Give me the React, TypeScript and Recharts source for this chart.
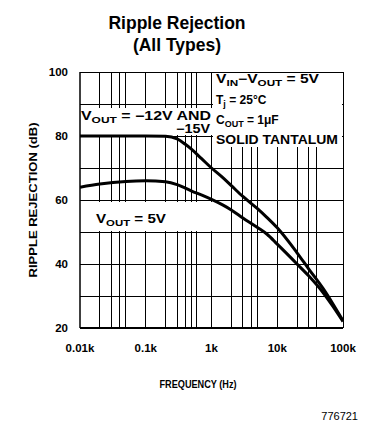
import { LineChart, Line, XAxis, YAxis, CartesianGrid, Customized } from "recharts";

const freqs = [10, 20, 50, 100, 200, 300, 400, 500, 700, 1000, 1500, 2000, 3000, 5000, 7000, 10000, 20000, 30000, 50000, 70000, 100000];
const vout12 = [80, 80, 80, 80, 79.9, 79.1, 77.4, 75.8, 73, 70, 66.9, 64.5, 61.1, 57.3, 54.5, 51.3, 43.5, 38.5, 32.3, 27.6, 22.3];
const vout5 = [64, 65, 65.8, 66, 65.7, 64.8, 63.7, 62.8, 61.6, 60.2, 58.4, 56.9, 54.4, 51.4, 49.3, 46.2, 40, 36.3, 31, 26.8, 22];

const xTicks = [10, 100, 1000, 10000, 100000];
const xTickLabels = ["0.01k", "0.1k", "1k", "10k", "100k"];
const yTicks = [20, 40, 60, 80, 100];

const data = freqs.map((f, i) => ({ f, neg: vout12[i], pos: vout5[i] }));

// minor log grid 1..9 per decade, and 5 dB rows
const gridX: number[] = [];
for (let d = 10; d < 100000; d *= 10) {
  for (let m = 1; m < 10; m++) gridX.push(d * m);
}
gridX.push(100000);
const gridY: number[] = [];
for (let v = 20; v <= 100; v += 5) gridY.push(v);

const FONT = "'Liberation Sans', Arial, Helvetica, sans-serif";

const Sub = ({ children }: { children: string }) => (
  <tspan fontSize={9} dy={3}>
    {children}
  </tspan>
);

function Annotations() {
  const t = { fontFamily: FONT, fontWeight: 700, fontSize: 12, fill: "#000" };
  return (
    <g>
      {/* white masks behind notes */}
      <rect x={213} y={73} width={129} height={74} fill="#fff" />
      <rect x={81} y={108} width={132} height={27} fill="#fff" />
      <rect x={92} y={202} width={120} height={29} fill="#fff" />

      <text x={216} y={83} {...t} textLength={103} lengthAdjust="spacingAndGlyphs">
        V<Sub>IN</Sub>
        <tspan dy={-3}>−V</tspan>
        <Sub>OUT</Sub>
        <tspan dy={-3}> = 5V</tspan>
      </text>
      <text x={216} y={104} {...t}>
        T<Sub>j</Sub>
        <tspan dy={-3}> = 25°C</tspan>
      </text>
      <text x={216} y={124} {...t}>
        C<Sub>OUT</Sub>
        <tspan dy={-3}> = 1μF</tspan>
      </text>
      <text x={216} y={144} {...t} textLength={122} lengthAdjust="spacingAndGlyphs">
        SOLID TANTALUM
      </text>
      <text x={81} y={120} {...t} textLength={130} lengthAdjust="spacingAndGlyphs">
        V<Sub>OUT</Sub>
        <tspan dy={-3}> = −12V AND</tspan>
      </text>
      <text x={176} y={133} {...t} textLength={34} lengthAdjust="spacingAndGlyphs">
        −15V
      </text>
      <text x={96} y={223} {...t} textLength={70} lengthAdjust="spacingAndGlyphs">
        V<Sub>OUT</Sub>
        <tspan dy={-3}> = 5V</tspan>
      </text>

      {/* titles */}
      <text x={177} y={29} textAnchor="middle" fontFamily={FONT} fontWeight={700} fontSize={17.5}>
        Ripple Rejection
      </text>
      <text x={177} y={51} textAnchor="middle" fontFamily={FONT} fontWeight={700} fontSize={17.5}>
        (All Types)
      </text>
      <text
        x={198}
        y={388}
        textAnchor="middle"
        fontFamily={FONT}
        fontWeight={700}
        fontSize={11.5}
        textLength={77}
        lengthAdjust="spacingAndGlyphs"
      >
        FREQUENCY (Hz)
      </text>
      <text
        transform="translate(37 200) rotate(-90)"
        textAnchor="middle"
        fontFamily={FONT}
        fontWeight={700}
        fontSize={11.5}
        textLength={155}
        lengthAdjust="spacingAndGlyphs"
      >
        RIPPLE REJECTION (dB)
      </text>
      <text x={358} y={420} textAnchor="end" fontFamily={FONT} fontSize={11}>
        776721
      </text>
    </g>
  );
}

export default function App() {
  return (
    <div style={{ position: "absolute", left: 0, top: 0, background: "#fff" }}>
      <LineChart width={365} height={423} data={data} margin={{ top: 72, right: 22, bottom: 65, left: 40 }}>
        <CartesianGrid
          stroke="#000"
          strokeWidth={1}
          shapeRendering="crispEdges"
          horizontalValues={gridY}
          verticalValues={gridX}
        />
        <XAxis
          dataKey="f"
          type="number"
          scale="log"
          domain={[10, 100000]}
          allowDataOverflow
          ticks={xTicks}
          tickFormatter={(v: number) => xTickLabels[xTicks.indexOf(v)] ?? ""}
          height={30}
          tickLine={false}
          tickSize={0}
          tickMargin={16}
          axisLine={{ stroke: "#000", strokeWidth: 2 }}
          tick={{ fill: "#000", fontFamily: FONT, fontWeight: 700, fontSize: 11.5 }}
        />
        <YAxis
          type="number"
          domain={[20, 100]}
          ticks={yTicks}
          width={40}
          tickLine={false}
          tickSize={0}
          tickMargin={12}
          axisLine={{ stroke: "#000", strokeWidth: 1.5 }}
          tick={{ fill: "#000", fontFamily: FONT, fontWeight: 700, fontSize: 11.5 }}
        />
        <Customized component={<Annotations />} />
        <Line dataKey="neg" stroke="#000" strokeWidth={3} dot={false} isAnimationActive={false} type="monotone" />
        <Line dataKey="pos" stroke="#000" strokeWidth={3} dot={false} isAnimationActive={false} type="monotone" />
      </LineChart>
    </div>
  );
}
